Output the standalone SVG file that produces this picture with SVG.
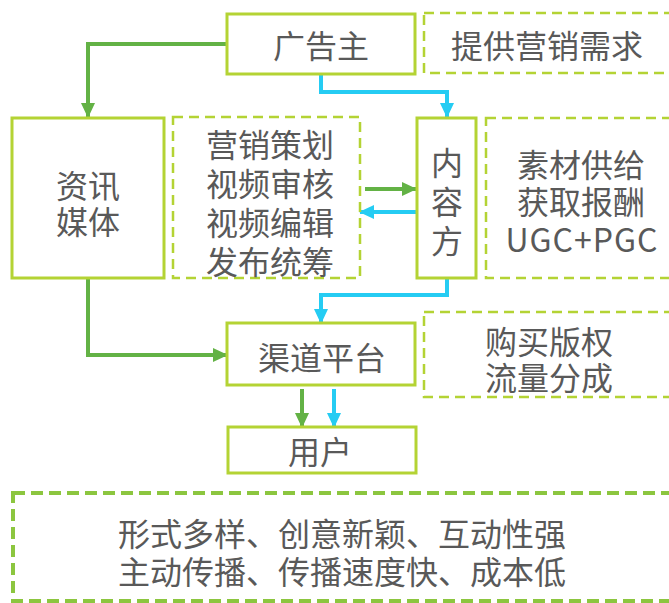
<svg xmlns="http://www.w3.org/2000/svg" width="669" height="603" viewBox="0 0 669 603">
<style>
.box{fill:#fff;stroke:#B4D334;stroke-width:3}
.dash{fill:none;stroke:#B4D334;stroke-width:2.5;stroke-dasharray:10 6}
.dash2{fill:none;stroke:#8CC63F;stroke-width:4;stroke-dasharray:12 6}
text{font-family:"Noto Sans CJK SC","Liberation Sans",sans-serif;font-size:32px;fill:#595959;text-anchor:middle;dominant-baseline:central}
.g{fill:none;stroke:#63B245;stroke-width:4}
.b{fill:none;stroke:#25CCF3;stroke-width:4}
</style>
<defs>
<marker id="ag" markerUnits="userSpaceOnUse" markerWidth="16" markerHeight="16" refX="14" refY="8" orient="auto"><path d="M0,1 L15,8 L0,15 Z" fill="#63B245"/></marker>
<marker id="ab" markerUnits="userSpaceOnUse" markerWidth="16" markerHeight="16" refX="14" refY="8" orient="auto"><path d="M0,1 L15,8 L0,15 Z" fill="#25CCF3"/></marker>
</defs>
<g id="connectors">
<path class="g" d="M227,44 H88 V117" marker-end="url(#ag)"/>
<path class="b" d="M321,75 V92 H447 V117" marker-end="url(#ab)"/>
<path class="g" d="M365,189 H416" marker-end="url(#ag)"/>
<path class="b" d="M416,212 H360" marker-end="url(#ab)"/>
<path class="b" d="M447,279 V295 H321 V323" marker-end="url(#ab)"/>
<path class="g" d="M88,279 V355 H227" marker-end="url(#ag)"/>
<path class="g" d="M302,389 V427" marker-end="url(#ag)"/>
<path class="b" d="M334,389 V427" marker-end="url(#ab)"/>
</g>
<g id="advertiser"><rect class="box" x="227" y="14" width="188" height="60"/><text x="321" y="44">广告主</text></g>
<g id="advertiser-note"><rect class="dash" x="424" y="13" width="250" height="60"/><text x="547" y="44">提供营销需求</text></g>
<g id="media"><rect class="box" x="12" y="118" width="152" height="160"/><text x="88" y="184">资讯<tspan x="88" y="220">媒体</tspan></text></g>
<g id="media-note"><rect class="dash" x="173" y="117" width="187" height="161"/><text x="270" y="143">营销策划<tspan x="270" y="182">视频审核</tspan><tspan x="270" y="221">视频编辑</tspan><tspan x="270" y="260">发布统筹</tspan></text></g>
<g id="content"><rect class="box" x="417" y="118" width="59" height="160"/><text x="447" y="161">内<tspan x="447" y="200">容</tspan><tspan x="447" y="239">方</tspan></text></g>
<g id="content-note"><rect class="dash" x="486" y="118" width="188" height="160"/><text x="581" y="163">素材供给<tspan x="581" y="200">获取报酬</tspan><tspan x="582" y="238" letter-spacing="1">UGC+PGC</tspan></text></g>
<g id="channel"><rect class="box" x="227" y="323" width="188" height="62"/><text x="322" y="356">渠道平台</text></g>
<g id="channel-note"><rect class="dash" x="424" y="312" width="250" height="85"/><text x="549" y="340">购买版权<tspan x="549" y="376">流量分成</tspan></text></g>
<g id="user"><rect class="box" x="228" y="427" width="188" height="46"/><text x="320" y="450">用户</text></g>
<g id="features"><rect class="dash2" x="13" y="493" width="662" height="108"/><text x="342" y="532">形式多样、创意新颖、互动性强<tspan x="342" y="570">主动传播、传播速度快、成本低</tspan></text></g>
</svg>
